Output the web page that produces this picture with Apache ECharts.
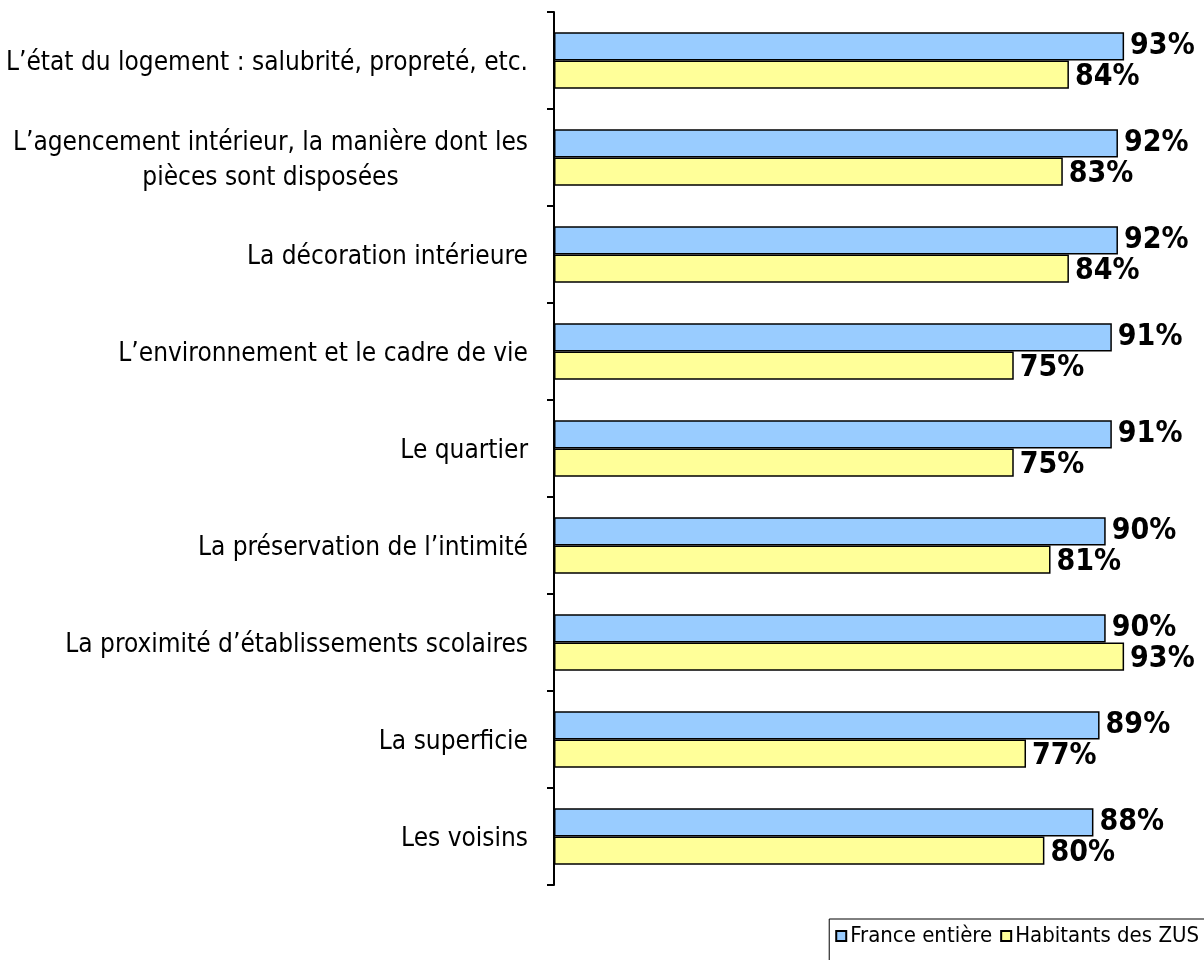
<!DOCTYPE html>
<html><head><meta charset="utf-8">
<script src="https://cdn.jsdelivr.net/npm/echarts@6/dist/echarts.min.js"></script>
<style>html,body{margin:0;padding:0;background:#fff}#c{width:1204px;height:960px}</style>
</head><body><div id="c"></div>
<script>
const categories = [
  "L’état du logement : salubrité, propreté, etc.",
  "L’agencement intérieur, la manière dont les\npièces sont disposées",
  "La décoration intérieure",
  "L’environnement et le cadre de vie",
  "Le quartier",
  "La préservation de l’intimité",
  "La proximité d’établissements scolaires",
  "La superficie",
  "Les voisins"
];
const seriesNames = ["France entière", "Habitants des ZUS"];
const franceValues = [93, 92, 92, 91, 91, 90, 90, 89, 88];
const zusValues = [84, 83, 84, 75, 75, 81, 93, 77, 80];

const FONT = "DejaVu Sans Condensed";
const chart = echarts.init(document.getElementById('c'));
const labelCfg = (dy) => ({
  show: true, position: 'right', distance: 6, offset: [0, dy],
  formatter: p => p.value + '%',
  color: '#000', fontFamily: FONT, fontWeight: 'bold', fontSize: 30
});
chart.setOption({
  animation: false,
  grid: { left: 554, right: 37, top: 12, bottom: 75, containLabel: false },
  xAxis: { type: 'value', min: 0, max: 100, show: false },
  yAxis: {
    type: 'category', inverse: true, data: categories,
    axisLine: { show: true, lineStyle: { color: '#000', width: 2 } },
    axisTick: { show: true, length: 7, lineStyle: { color: '#000', width: 2 } },
    axisLabel: {
      margin: 26, color: '#000', fontFamily: FONT, fontSize: 26,
      formatter: v => v.split('\n').map(s => '{a|' + s + '}').join('\n'),
      rich: { a: { align: 'center', fontFamily: FONT, fontSize: 26, color: '#000', lineHeight: 35, padding: [6, 0, 0, 0] } }
    }
  },
  legend: {
    top: 919, right: -1, orient: 'horizontal',
    borderColor: '#000', borderWidth: 1, padding: [6, 6, 14, 6],
    icon: 'rect', itemWidth: 10, itemHeight: 10, itemGap: 8,
    textStyle: { fontFamily: FONT, fontSize: 22, color: '#000', padding: [0, 0, 0, -1] },
    data: seriesNames
  },
  series: [
    { name: seriesNames[0], type: 'bar', data: franceValues, barGap: '0%', barCategoryGap: '42%',
      itemStyle: { color: '#99CCFF', borderColor: '#000', borderWidth: 1.5 }, label: labelCfg(0) },
    { name: seriesNames[1], type: 'bar', data: zusValues,
      itemStyle: { color: '#FFFF99', borderColor: '#000', borderWidth: 1.5 }, label: labelCfg(3) }
  ]
});
</script></body></html>
